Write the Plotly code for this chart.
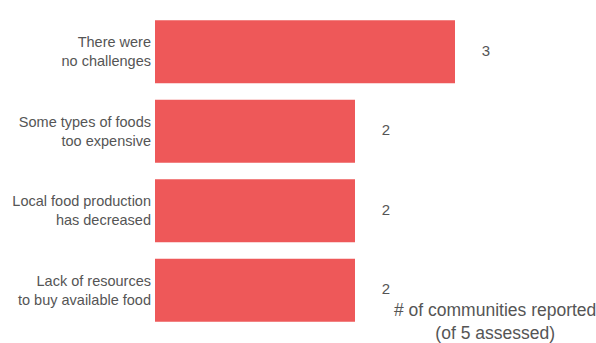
import plotly.graph_objects as go

categories = [
    "There were<br>no challenges",
    "Some types of foods<br>too expensive",
    "Local food production<br>has decreased",
    "Lack of resources<br>to buy available food",
]
values = [3, 2, 2, 2]
value_labels = ["3", "2", "2", "2"]
axis_note = "# of communities reported<br>(of 5 assessed)"

FONT = "Liberation Sans, Arial, sans-serif"

fig = go.Figure()
fig.add_trace(go.Bar(
    y=categories, x=values, orientation="h",
    marker=dict(color="#EE5859", line=dict(width=0)),
    hoverinfo="skip",
))
fig.add_trace(go.Scatter(
    y=categories, x=[v + 0.31 for v in values], mode="text",
    text=value_labels, textposition="middle center",
    textfont=dict(family=FONT, size=15, color="#555555"),
    hoverinfo="skip",
))
fig.add_annotation(
    text=axis_note, xref="paper", yref="paper", x=0.85, y=0.027,
    xanchor="center", yanchor="middle", showarrow=False, align="center",
    font=dict(family=FONT, size=17.5, color="#555555"),
)
fig.update_layout(
    width=596, height=343,
    margin=dict(l=155, r=41, t=11.5, b=12.5, autoexpand=False),
    paper_bgcolor="white", plot_bgcolor="white",
    bargap=0.21, showlegend=False,
    font=dict(family=FONT, size=14.5, color="#555555"),
    xaxis=dict(range=[0, 4], visible=False),
    yaxis=dict(autorange="reversed", showgrid=False, zeroline=False, showline=False,
               ticks="", automargin=False, ticklabelstandoff=3),
)
fig.write_html(
    "out.html",
    config={"displayModeBar": False},
    post_script="document.body.style.margin='0';document.body.style.overflow='hidden';",
)
